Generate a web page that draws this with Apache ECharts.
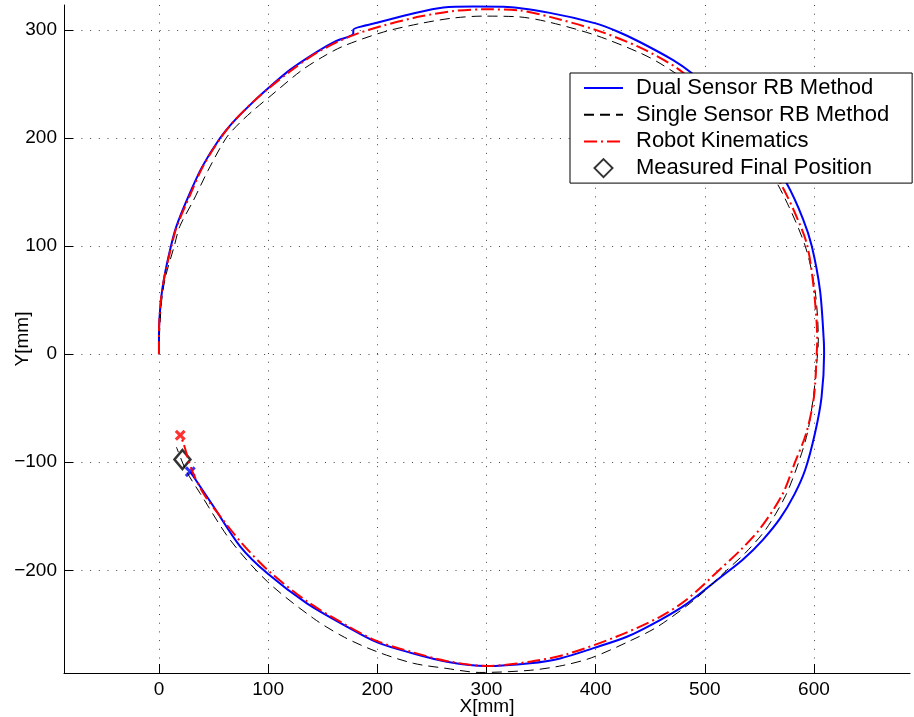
<!DOCTYPE html>
<html>
<head>
<meta charset="utf-8">
<title>Trajectory</title>
<script src="https://cdn.jsdelivr.net/npm/echarts@6/dist/echarts.min.js"></script>
<style>
  html, body { margin: 0; padding: 0; background: #fff; }
  #root { width: 914px; height: 717px; }
</style>
</head>
<body>
<div id="root"></div>
<script>
// tick values of both axes
const xTicks = [0, 100, 200, 300, 400, 500, 600];
const yTicks = [-200, -100, 0, 100, 200, 300];

// dual sensor RB method  [x, y] in mm
const dualSensor = [
  [0, 0], [0, 19], [1.8, 50], [4.9, 71.5], [11, 100], [15.8, 117.8], [25.5, 142.5],
  [39.4, 173], [56, 200], [70, 217], [88, 235], [100, 246], [120, 263], [144.7, 279.7],
  [162, 289.5], [178, 296.6], [178, 300], [199.6, 306.5], [230, 314.5], [260.6, 320.7],
  [288, 321.5], [315.6, 321.3], [358, 315.7], [400, 306], [420, 298.5], [440, 289], [471, 272],
  [488, 260], [520, 232], [550, 198], [575, 158], [590, 125], [598, 100], [605.6, 58.7],
  [609, 13], [609.3, 0], [607, -39.5], [601, -73], [592, -107], [582, -130], [569, -152],
  [553, -172], [535, -190], [515, -206], [483.5, -231], [459, -246], [428.6, -261.5],
  [398, -272], [367.5, -281.5], [340, -286], [300, -288.6], [263.7, -284.6], [233, -277],
  [200, -266.7], [172, -252], [135.5, -230.6], [99.5, -203], [74.5, -178], [50, -141],
  [28.7, -108.8]
];

// single sensor RB method
const singleSensor = [
  [0, 0], [0.5, 19], [2.5, 50], [6, 71.5], [14, 100], [19, 118], [31.7, 142.5], [45, 170],
  [61.6, 200], [74, 214], [86.6, 225.7], [100, 237], [130, 262], [150, 275], [169, 285],
  [205.7, 298], [240, 306], [270, 311], [297, 312.7], [330, 312], [358, 307], [400, 295],
  [440, 279], [459, 269], [490, 248], [520, 221], [550, 185], [572, 147], [592, 100],
  [601, 59], [604, 13], [603.3, 0], [599.5, -39.5], [594, -73], [586, -100], [574, -131],
  [556, -162], [538, -183], [520, -200], [492, -226], [457, -252], [430, -266], [396, -281],
  [370, -288], [340, -292.5], [294, -294.5], [263.7, -290.8], [233, -286], [200, -275.4],
  [170, -262], [141.6, -244.5], [99.5, -210.6], [65.3, -172], [37.8, -128.9], [25, -108],
  [16, -86]
];

// robot kinematics
const robotKinematics = [
  [0, 0], [0, 19], [1.8, 50], [5, 71.5], [11.5, 100], [16.3, 118], [26.5, 142.5], [40, 173],
  [56.5, 200], [70.5, 217.5], [88, 235], [100, 245.5], [120, 261.5], [144, 278.5], [175, 294],
  [205.7, 304], [240, 312.5], [270, 317.5], [297, 319], [330, 318], [358, 312], [400, 300],
  [440, 284], [474, 265], [498, 245], [520, 225], [550, 189], [570.5, 156], [585, 125],
  [594, 100], [600, 59], [603, 13], [602.5, 0], [600, -39.5], [593, -73], [582.7, -100],
  [571, -130], [551, -161], [533, -181], [514, -199], [483.5, -227], [459, -243], [420, -261],
  [373.5, -277.6], [340, -284.5], [300, -288.5], [264, -284], [233, -276], [200, -265.5],
  [172, -251], [136, -229], [101, -201], [76, -175], [53, -146], [40.8, -129], [30, -107],
  [22.5, -82.6], [19.5, -75]
];

// end points
const dualEnd = [[28.7, -108.8]];
const robotEnd = [[19.5, -75]];
const measuredFinal = [[21.5, -97.5]];

const font = "'Liberation Sans', Arial, Helvetica, sans-serif";
const crossIcon = 'path://M0,2L2,0L5,3L8,0L10,2L7,5L10,8L8,10L5,7L2,10L0,8L3,5Z';
const diamondIcon = 'path://M5,0L10,5L5,10L0,5Z';

const chart = echarts.init(document.getElementById('root'));

function axisBase(ticks) {
  return {
    type: 'value',
    axisLine: { show: true, onZero: false, lineStyle: { color: '#000', width: 1 } },
    axisTick: {
      show: true, inside: true, length: 9, customValues: ticks,
      lineStyle: { color: '#000', width: 1 }
    },
    axisLabel: {
      customValues: ticks, color: '#000', fontSize: 19, fontFamily: font, margin: 7,
      // matlab prints a real minus sign
      formatter: function (v) { return String(v).replace('-', '\u2212'); }
    },
    splitLine: {
      show: true,
      lineStyle: { color: '#444', width: 1, type: [1, 7.7] }
    },
    nameLocation: 'middle',
    nameMoveOverlap: false,
    nameTextStyle: { color: '#000', fontSize: 19, fontFamily: font }
  };
}

const xAxis = axisBase(xTicks);
xAxis.min = -87;
xAxis.max = 688;
xAxis.name = 'X[mm]';
xAxis.nameGap = 24;

const yAxis = axisBase(yTicks);
yAxis.min = -295;
yAxis.max = 323;
yAxis.name = 'Y[mm]';
yAxis.nameGap = 32;

// hide the round marker that line series put in the legend
const noMarker = { opacity: 0 };

const option = {
  animation: false,
  backgroundColor: '#fff',
  textStyle: { fontFamily: font },
  grid: { left: 64, right: 4, top: 5, bottom: 44, outerBoundsMode: 'none', containLabel: false },
  xAxis: xAxis,
  yAxis: yAxis,
  legend: {
    orient: 'vertical',
    left: 570,
    top: 73,
    backgroundColor: '#fff',
    borderColor: '#000',
    borderWidth: 1,
    borderRadius: 0,
    padding: [4, 23, 4, 13],
    itemWidth: 39,
    itemHeight: 18,
    itemGap: 4.7,
    symbolKeepAspect: true,
    textStyle: { color: '#000', fontSize: 22, fontFamily: font, padding: [0, 0, 0, 8] },
    data: [
      { name: 'Dual Sensor RB Method', itemStyle: noMarker },
      { name: 'Single Sensor RB Method', itemStyle: noMarker },
      { name: 'Robot Kinematics', itemStyle: noMarker },
      { name: 'Measured Final Position', icon: diamondIcon }
    ]
  },
  series: [
    {
      name: 'Dual Sensor RB Method',
      type: 'line',
      data: dualSensor,
      showSymbol: false,
      symbol: 'none',
      smooth: 0.3,
      lineStyle: { color: '#0000ff', width: 2 },
      itemStyle: { color: '#0000ff' }
    },
    {
      name: 'Single Sensor RB Method',
      type: 'line',
      data: singleSensor,
      showSymbol: false,
      symbol: 'none',
      smooth: 0.3,
      lineStyle: { color: '#000', width: 1, type: [10, 6] },
      itemStyle: { color: '#000' }
    },
    {
      name: 'Robot Kinematics',
      type: 'line',
      data: robotKinematics,
      showSymbol: false,
      symbol: 'none',
      smooth: 0.3,
      lineStyle: { color: '#ff0000', width: 2, type: [13, 4, 2, 4] },
      itemStyle: { color: '#ff0000' }
    },
    {
      type: 'scatter',
      data: dualEnd,
      symbol: crossIcon,
      symbolSize: 11,
      itemStyle: { color: '#0000ff' },
      silent: true
    },
    {
      type: 'scatter',
      data: robotEnd,
      symbol: crossIcon,
      symbolSize: 11,
      itemStyle: { color: '#ff0000' },
      silent: true
    },
    {
      name: 'Measured Final Position',
      type: 'scatter',
      data: measuredFinal,
      symbol: 'diamond',
      symbolSize: [16, 19],
      itemStyle: { color: '#fff', borderColor: '#000', borderWidth: 2.5 },
      silent: true
    }
  ]
};

chart.setOption(option);
</script>
</body>
</html>
